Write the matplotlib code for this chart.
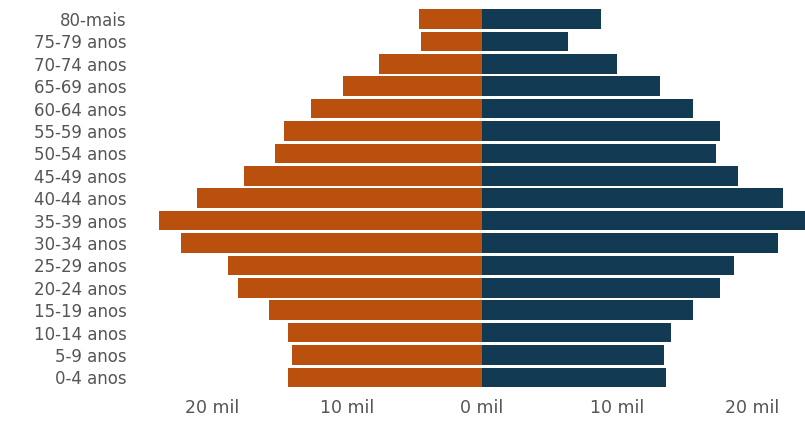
import matplotlib.pyplot as plt
import numpy as np

# age groups, top to bottom
faixas = ['80-mais', '75-79 anos', '70-74 anos', '65-69 anos', '60-64 anos',
          '55-59 anos', '50-54 anos', '45-49 anos', '40-44 anos', '35-39 anos',
          '30-34 anos', '25-29 anos', '20-24 anos', '15-19 anos', '10-14 anos',
          '5-9 anos', '0-4 anos']

# population in thousands
homens = [4.7, 4.5, 7.6, 10.3, 12.7, 14.7, 15.3, 17.6, 21.1, 23.9,
          22.3, 18.8, 18.1, 15.8, 14.4, 14.1, 14.4]
mulheres = [8.8, 6.4, 10.0, 13.2, 15.6, 17.6, 17.3, 19.0, 22.3, 24.6,
            21.9, 18.7, 17.6, 15.6, 14.0, 13.5, 13.6]

ticks = [-20, -10, 0, 10, 20]
tick_labels = ['20 mil', '10 mil', '0 mil', '10 mil', '20 mil']

cor_h = '#B9500E'
cor_m = '#123A53'
cor_txt = '#555555'

fig = plt.figure(figsize=(8.05, 4.23), dpi=100)
ax = fig.add_axes([0.174, 0.0733, 0.826, 0.9267])

y = np.arange(len(faixas))
ax.barh(y, -np.array(homens), height=0.88, color=cor_h)
ax.barh(y, mulheres, height=0.88, color=cor_m)

ax.set_xlim(-25.33, 23.93)
ax.set_ylim(16.65, -0.85)

ax.set_yticks(y)
ax.set_yticklabels(faixas)
ax.set_xticks(ticks)
ax.set_xticklabels(tick_labels)

ax.tick_params(axis='both', length=0, colors=cor_txt)
ax.tick_params(axis='y', pad=9.5, labelsize=12)
ax.tick_params(axis='x', pad=5, labelsize=12.5)
for s in ax.spines.values():
    s.set_visible(False)

fig.savefig('out.png', dpi=100)
